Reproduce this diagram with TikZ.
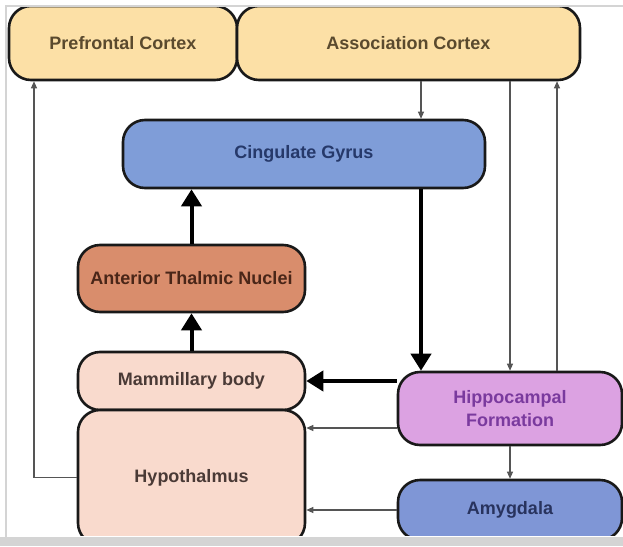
\documentclass[tikz,border=0pt]{standalone}
\usepackage{fontspec}
\setmainfont{Liberation Sans}
\usetikzlibrary{arrows.meta}
\definecolor{pfcfill}{HTML}{FCE0A6}
\definecolor{cgfill}{HTML}{7F9DD8}
\definecolor{atnfill}{HTML}{D98D6C}
\definecolor{mbfill}{HTML}{F9DACD}
\definecolor{hffill}{HTML}{DCA2E2}
\definecolor{amyfill}{HTML}{7F96D6}
\definecolor{pfctext}{HTML}{5A4A2E}
\definecolor{cgtext}{HTML}{26396A}
\definecolor{atntext}{HTML}{4A2618}
\definecolor{mbtext}{HTML}{4A3A36}
\definecolor{hftext}{HTML}{7A3A9E}
\definecolor{amytext}{HTML}{28335E}
\definecolor{thinline}{HTML}{555555}
\definecolor{framegray}{HTML}{D4D4D4}
\begin{document}
\begin{tikzpicture}[x=1pt,y=-1pt,
  boxstyle/.style={draw=black!90, line width=2.6pt, rounded corners=22pt,
    font=\fontsize{18}{21}\selectfont\bfseries, inner sep=0pt, align=center},
  thickarrow/.style={line width=4pt, -{Triangle[length=17pt,width=20pt]}},
  thinarrow/.style={draw=thinline, line width=1.1pt, -{Triangle[length=7pt,width=6pt]}},
  thinline/.style={draw=thinline, line width=1.1pt}]
\useasboundingbox (0,0) rectangle (623,546);
\fill[white] (0,0) rectangle (623,546);
\begin{scope}
\clip (7,7) rectangle (623,535);
\node[boxstyle, fill=pfcfill, text=pfctext, minimum width=228pt, minimum height=74pt] (pfc) at (123,43) {Prefrontal Cortex};
\node[boxstyle, fill=pfcfill, text=pfctext, minimum width=343pt, minimum height=74pt] (ac) at (408.5,43) {Association Cortex};
\node[boxstyle, fill=cgfill, text=cgtext, minimum width=362pt, minimum height=68pt] (cg) at (304,154) {Cingulate Gyrus};
\node[boxstyle, fill=atnfill, text=atntext, minimum width=227pt, minimum height=67pt] (atn) at (191.5,278.5) {Anterior Thalmic Nuclei};
\node[boxstyle, fill=mbfill, text=mbtext, minimum width=227pt, minimum height=58pt] (mb) at (191.5,381) {Mammillary body};
\node[boxstyle, fill=mbfill, text=mbtext, minimum width=227pt, minimum height=135pt] (hyp) at (191.5,477.5) {Hypothalmus};
\node[boxstyle, fill=hffill, text=hftext, minimum width=224pt, minimum height=73pt] (hf) at (510,408.5) {Hippocampal\\[2pt]Formation};
\node[boxstyle, fill=amyfill, text=amytext, minimum width=224pt, minimum height=60pt] (amy) at (510,510) {Amygdala};
\end{scope}
% thin arrows
\coordinate (xa) at (421,0);
\coordinate (xc) at (557,0);
\coordinate (hk) at (34,477.5);
\coordinate (yh) at (0,428);
\draw[thinarrow] (ac.south -| xa) -- (cg.north -| xa);
\draw[thinarrow] (ac.south -| hf.north) -- (hf.north);
\draw[thinarrow] (hf.north -| xc) -- (ac.south -| xc);
\draw[thinarrow] (hf.west |- yh) -- (hyp.east |- yh);
\draw[thinarrow] (hf.south) -- (amy.north);
\draw[thinarrow] (amy.west) -- (hyp.east |- amy.west);
\draw[thinarrow] (hyp.west) -- (hk) -- (hk |- pfc.south);
% thick arrows
\draw[thickarrow] (cg.south -| xa) -- (hf.north -| xa);
\draw[thickarrow] (atn.north) -- (cg.south -| atn.north);
\draw[thickarrow] (mb.north) -- (atn.south);
\draw[thickarrow] (hf.west |- mb.east) -- (mb.east);
% frame
\fill[framegray] (0,537) rectangle (623,546);
\draw[framegray, line width=1.5pt] (6,537) -- (6,6) -- (623,6);
\end{tikzpicture}
\end{document}
